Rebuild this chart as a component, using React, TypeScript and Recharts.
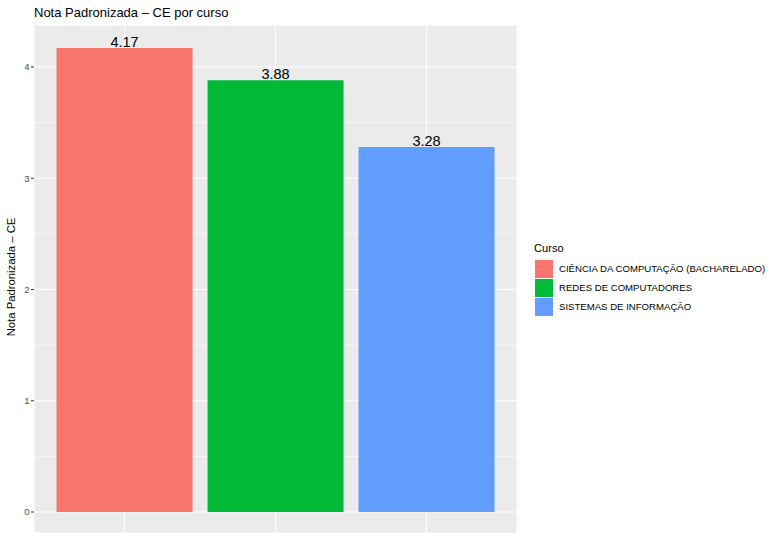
import { BarChart, Bar, XAxis, YAxis, CartesianGrid, LabelList, Cell } from 'recharts';

const cursos = ['CIÊNCIA DA COMPUTAÇÃO (BACHARELADO)', 'REDES DE COMPUTADORES', 'SISTEMAS DE INFORMAÇÃO'];
const notas = [4.17, 3.88, 3.28];
const cores = ['#F8766D', '#00BA38', '#619CFF'];
const yTicks = [0, 1, 2, 3, 4];
const yMinor = [0.5, 1.5, 2.5, 3.5];

const data = cursos.map((curso, i) => ({ curso, nota: notas[i] }));

const font = '"Liberation Sans", Arial, Helvetica, sans-serif';

// legenda fora do svg, posicionada à direita do painel
const LegendBox = () => (
  <div style={{ position: 'absolute', left: 534, top: 242, fontFamily: font, color: '#000' }}>
    <div style={{ fontSize: 11.2, marginBottom: 5 }}>Curso</div>
    {cursos.map((c, i) => (
      <div key={c} style={{ display: 'flex', alignItems: 'center', height: 19 }}>
        <div style={{ width: 18, height: 18, background: cores[i], marginLeft: 1, marginRight: 6 }} />
        <span style={{ fontSize: 9.6, whiteSpace: 'nowrap' }}>{c}</span>
      </div>
    ))}
  </div>
);

const App = () => {
  return (
    <div style={{ position: 'absolute', left: 0, top: 0, width: 769, height: 533, background: '#fff', fontFamily: font }}>
      <BarChart
        width={769}
        height={533}
        data={data}
        margin={{ top: 25, right: 252, bottom: 0, left: 0 }}
        barCategoryGap="5%"
      >
        <CartesianGrid fill="#EBEBEB" stroke="#FFFFFF" strokeWidth={1.2} />
        <CartesianGrid vertical={false} horizontalValues={yMinor} stroke="#FFFFFF" strokeWidth={0.6} />
        <XAxis dataKey="curso" hide interval={0} padding={{ left: 15, right: 15 }} />
        <YAxis
          width={34}
          domain={[-0.1888, 4.3775]}
          ticks={yTicks}
          axisLine={false}
          tickSize={3}
          tickLine={{ stroke: '#333333', strokeWidth: 1 }}
          tick={{ fontSize: 9.5, fill: '#4D4D4D', fontFamily: font }}
          tickMargin={1.5}
          allowDataOverflow
        />
        <Bar dataKey="nota" isAnimationActive={false}>
          {data.map((d, i) => (
            <Cell key={d.curso} fill={cores[i]} />
          ))}
          <LabelList
            dataKey="nota"
            position="top"
            offset={1}
            style={{ fontSize: 14.5, fill: '#000', fontFamily: font }}
          />
        </Bar>
        <text x={34} y={17} fontSize={13} fill="#000" fontFamily={font}>
          Nota Padronizada – CE por curso
        </text>
        <text
          x={0}
          y={0}
          transform="translate(15, 277) rotate(-90)"
          textAnchor="middle"
          fontSize={11.3}
          fill="#000"
          fontFamily={font}
        >
          Nota Padronizada – CE
        </text>
      </BarChart>
      <LegendBox />
    </div>
  );
};

export default App;
